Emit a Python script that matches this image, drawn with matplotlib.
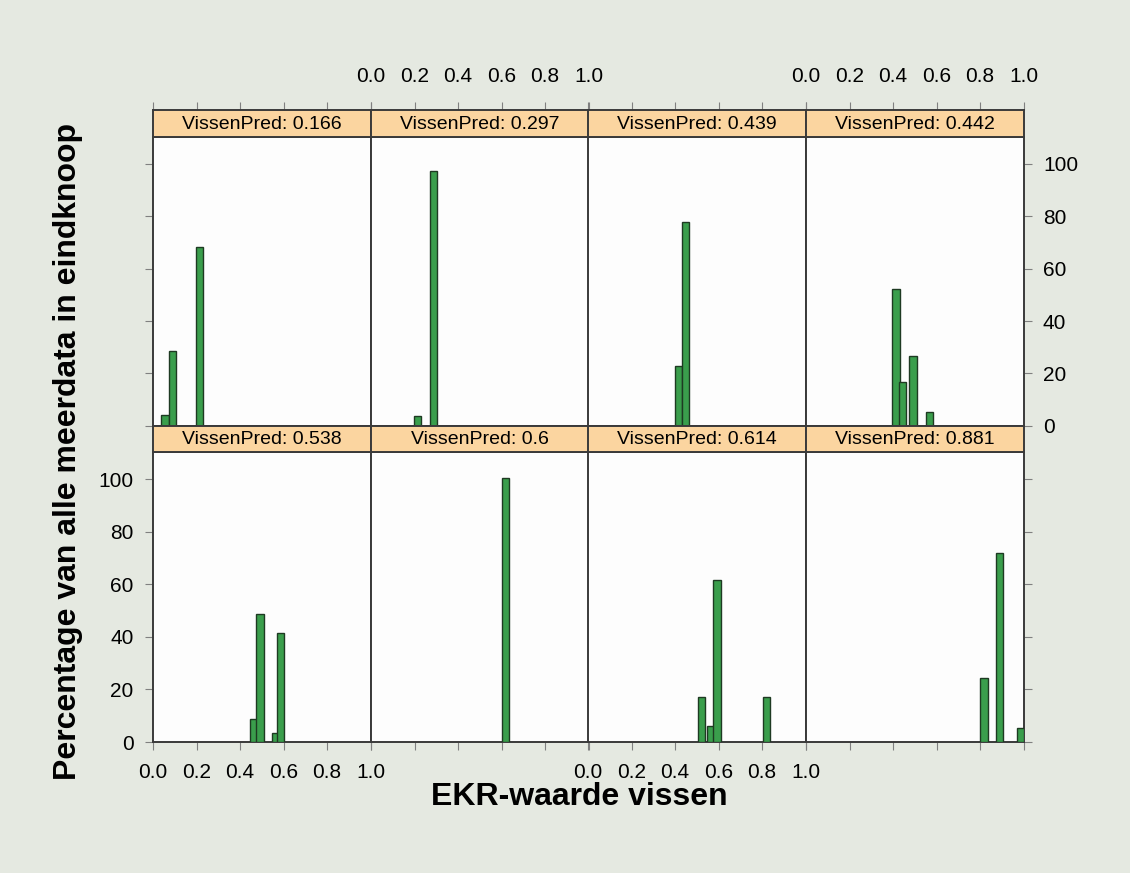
import matplotlib.pyplot as plt

# Panel conditions (VissenPred) and the histogram bars per panel
vissen_pred = ["0.166", "0.297", "0.439", "0.442", "0.538", "0.6", "0.614", "0.881"]
bar_centers = [
    [0.055, 0.088, 0.214],
    [0.214, 0.289],
    [0.415, 0.450],
    [0.414, 0.445, 0.492, 0.567],
    [0.463, 0.492, 0.562, 0.588],
    [0.618],
    [0.520, 0.562, 0.593, 0.822],
    [0.818, 0.891, 0.985],
]
bar_heights = [
    [4, 28.6, 68.2],
    [3.7, 97.3],
    [22.7, 78],
    [52.3, 16.8, 26.5, 5.2],
    [8.8, 48.6, 3.3, 41.6],
    [100.5],
    [17.3, 6.1, 61.7, 17.3],
    [24.3, 71.9, 5.2],
]
x_ticks = [0.0, 0.2, 0.4, 0.6, 0.8, 1.0]
y_ticks = [0, 20, 40, 60, 80, 100]

plt.rcParams['font.family'] = ['Liberation Sans', 'DejaVu Sans']

W, H = 1130, 873
fig = plt.figure(figsize=(W / 100, H / 100), dpi=100, facecolor='#e5e9e1')

col_left = [153, 371, 588, 806]
col_w = 217.5
rows = [(110, 136.5, 425.7), (425.7, 451.5, 742)]  # strip top, panel top, panel bottom
frame_col = '#3a3a3a'
tick_kw = dict(direction='out', length=6, width=0.8, color='#808080', labelsize=15)

for i, label in enumerate(vissen_pred):
    r, c = divmod(i, 4)
    s_top, p_top, p_bot = rows[r]
    x0 = col_left[c]

    ax = fig.add_axes([x0 / W, 1 - p_bot / H, col_w / W, (p_bot - p_top) / H])
    ax.set_facecolor('#fdfdfd')
    ax.bar(bar_centers[i], bar_heights[i], width=0.033, color='#3a9e4c',
           edgecolor='#1e3a22', linewidth=1.0, zorder=3)
    ax.set_xlim(0, 1)
    ax.set_ylim(0, 110.5)
    for sp in ax.spines.values():
        sp.set_color(frame_col)
        sp.set_linewidth(1.4)

    ax.set_xticks(x_ticks)
    ax.set_yticks(y_ticks)
    ax.tick_params(**tick_kw)
    ax.tick_params(axis='x', pad=9)
    ax.tick_params(axis='y', pad=8)
    # bottom row carries the lower x axis, labels alternate between columns
    ax.tick_params(axis='x', top=False, labeltop=False, bottom=(r == 1),
                   labelbottom=(r == 1 and c % 2 == 0))
    # y ticks only on the outer columns
    ax.tick_params(axis='y', left=(c == 0), right=(c == 3),
                   labelleft=(c == 0 and r == 1), labelright=(c == 3 and r == 0))

    # strip with the panel condition
    sax = fig.add_axes([x0 / W, 1 - p_top / H, col_w / W, (p_top - s_top) / H])
    sax.set_facecolor('#fbd5a0')
    sax.set_xlim(0, 1)
    sax.set_yticks([])
    if r == 0:
        # upper x axis sits above the strips of the top row
        sax.set_xticks(x_ticks)
        sax.tick_params(**tick_kw)
        sax.tick_params(axis='x', bottom=False, labelbottom=False, top=True,
                        labeltop=(c % 2 == 1), pad=11)
    else:
        sax.set_xticks([])
    for sp in sax.spines.values():
        sp.set_color(frame_col)
        sp.set_linewidth(1.4)
    sax.text(0.5, 0.47, f"VissenPred: {label}", ha='center', va='center',
             fontsize=14, transform=sax.transAxes)

fig.text(68 / W, 1 - 451 / H, 'Percentage van alle meerdata in eindknoop',
         rotation=90, ha='center', va='center', fontsize=23, fontweight='bold')
fig.text(579 / W, 1 - 797 / H, 'EKR-waarde vissen', ha='center', va='center',
         fontsize=23, fontweight='bold')

fig.savefig('out.png', dpi=100, facecolor=fig.get_facecolor())
